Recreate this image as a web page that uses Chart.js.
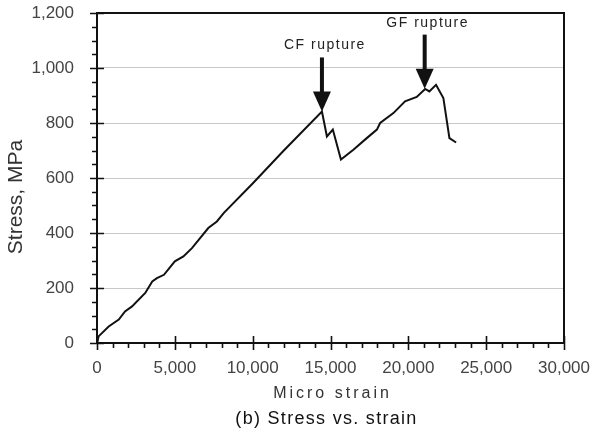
<!DOCTYPE html>
<html>
<head>
<meta charset="utf-8">
<script src="https://cdn.jsdelivr.net/npm/chart.js@4/dist/chart.umd.min.js"></script>
<style>
  body { margin: 0; background: #fff; }
  canvas { display: block; }
</style>
</head>
<body>
<canvas id="grafico" width="593" height="435"></canvas>
<script>
// datos (micro strain vs MPa)
const strain = [0, 100, 750, 1400, 1800, 2250, 3100, 3550, 3850, 4300, 5000, 5550, 6100, 7150, 7700, 8150,
  10000, 12000, 14450, 14770, 15150, 15670, 16470, 17330, 17980, 18190, 19040, 19790, 20540, 21080,
  21350, 21780, 22250, 22640, 23070];
const stress = [0, 24, 60, 85, 115, 133, 182, 224, 236, 248, 297, 315, 345, 418, 442, 473,
  580, 700, 842, 751, 776, 667, 703, 745, 776, 800, 836, 879, 895, 924,
  915, 939, 891, 745, 729];

// flechas de rotura
const ruptureLabels = ['CF rupture', 'GF rupture'];
const ruptureStrain = [14450, 21050];
const ruptureStress = [842, 925];

const xTitle = 'Micro strain';
const yTitle = 'Stress, MPa';
const caption = '(b) Stress vs. strain';

const xMax = 30000, xStep = 5000, xMinor = 1000;
const yMax = 1200, yStep = 200, yMinor = 50;

const ink = '#111';

// tamaño fijo de los ejes, sin relleno extra de etiquetas
function fixAxis(scale, w, h) {
  if (w) scale.width = w;
  if (h) scale.height = h;
  scale.paddingLeft = 0;
  scale.paddingRight = 0;
  scale.paddingTop = 0;
  scale.paddingBottom = 0;
}

const decor = {
  id: 'decor',
  afterDatasetsDraw(chart) {
    const ctx = chart.ctx;
    const { left, right, top, bottom } = chart.chartArea;
    const xs = chart.scales.x, ys = chart.scales.y;
    ctx.save();
    ctx.strokeStyle = ink;
    ctx.lineWidth = 2;
    // marco superior y derecho
    ctx.beginPath();
    ctx.moveTo(left, top); ctx.lineTo(right, top); ctx.lineTo(right, bottom);
    ctx.stroke();

    // marcas del eje x
    ctx.lineWidth = 1.6;
    ctx.beginPath();
    for (let v = 0; v <= xMax; v += xMinor) {
      const px = Math.round(xs.getPixelForValue(v)) + 0.5;
      if (v % xStep === 0) { ctx.moveTo(px, bottom - 7); ctx.lineTo(px, bottom + 7); }
      else { ctx.moveTo(px, bottom); ctx.lineTo(px, bottom + 5); }
    }
    // marcas del eje y
    for (let v = 0; v <= yMax; v += yMinor) {
      const py = Math.round(ys.getPixelForValue(v)) + 0.5;
      if (v % yStep === 0) { ctx.moveTo(left - 7, py); ctx.lineTo(left + 7, py); }
      else { ctx.moveTo(left - 5, py); ctx.lineTo(left, py); }
    }
    ctx.stroke();

    // flechas y textos
    ctx.fillStyle = ink;
    ctx.font = '14px "Liberation Sans", Arial, sans-serif';
    ctx.letterSpacing = '1.5px';
    ctx.textAlign = 'center';
    ctx.textBaseline = 'alphabetic';
    for (let i = 0; i < ruptureLabels.length; i++) {
      const tx = xs.getPixelForValue(ruptureStrain[i]);
      const ty = ys.getPixelForValue(ruptureStress[i]);
      ctx.fillRect(tx - 2, ty - 54, 4, 36);
      ctx.beginPath();
      ctx.moveTo(tx - 9, ty - 20);
      ctx.lineTo(tx + 9, ty - 20);
      ctx.lineTo(tx, ty);
      ctx.closePath();
      ctx.fill();
      ctx.fillStyle = '#222';
      ctx.fillText(ruptureLabels[i], tx + 3, ty - 62);
      ctx.fillStyle = ink;
    }

    // titulos
    ctx.fillStyle = '#333';
    ctx.font = '16px "Liberation Sans", Arial, sans-serif';
    ctx.letterSpacing = '3px';
    ctx.textBaseline = 'middle';
    ctx.fillText(xTitle, (left + right) / 2 + 2, 394);
    ctx.fillStyle = ink;
    ctx.font = '18px "Liberation Sans", Arial, sans-serif';
    ctx.letterSpacing = '1.3px';
    ctx.fillText(caption, (left + right) / 2 - 4, 419);

    ctx.letterSpacing = '0px';
    ctx.fillStyle = '#333';
    ctx.font = '21px "Liberation Sans", Arial, sans-serif';
    ctx.textBaseline = 'alphabetic';
    ctx.translate(22, 197);
    ctx.rotate(-Math.PI / 2);
    ctx.fillText(yTitle, 0, 0);
    ctx.restore();
  }
};

Chart.defaults.font.family = '"Liberation Sans", Arial, sans-serif';
Chart.defaults.color = '#444';

const ctx = document.getElementById('grafico').getContext('2d');
new Chart(ctx, {
  type: 'scatter',
  data: {
    datasets: [{
      label: 'Stress',
      data: strain.map((s, i) => ({ x: s, y: stress[i] })),
      showLine: true,
      borderColor: ink,
      borderWidth: 2,
      pointRadius: 0,
      tension: 0,
    }]
  },
  options: {
    responsive: false,
    animation: false,
    layout: { padding: { left: 0, right: 29, top: 13, bottom: 0 } },
    plugins: {
      legend: { display: false },
      tooltip: { enabled: false },
    },
    scales: {
      x: {
        type: 'linear',
        min: 0, max: xMax,
        afterFit(scale) { fixAxis(scale, 0, 92); },
        ticks: { stepSize: xStep, font: { size: 17 }, padding: 15, maxRotation: 0, autoSkip: false },
        grid: { display: false, drawTicks: false },
        border: { display: true, color: ink, width: 2 },
      },
      y: {
        min: 0, max: yMax,
        afterFit(scale) { fixAxis(scale, 97, 0); },
        ticks: { stepSize: yStep, font: { size: 17 }, padding: 23 },
        grid: { color: '#c8c8c8', lineWidth: 1, drawTicks: false },
        border: { display: true, color: ink, width: 2 },
      }
    }
  },
  plugins: [decor]
});
</script>
</body>
</html>
